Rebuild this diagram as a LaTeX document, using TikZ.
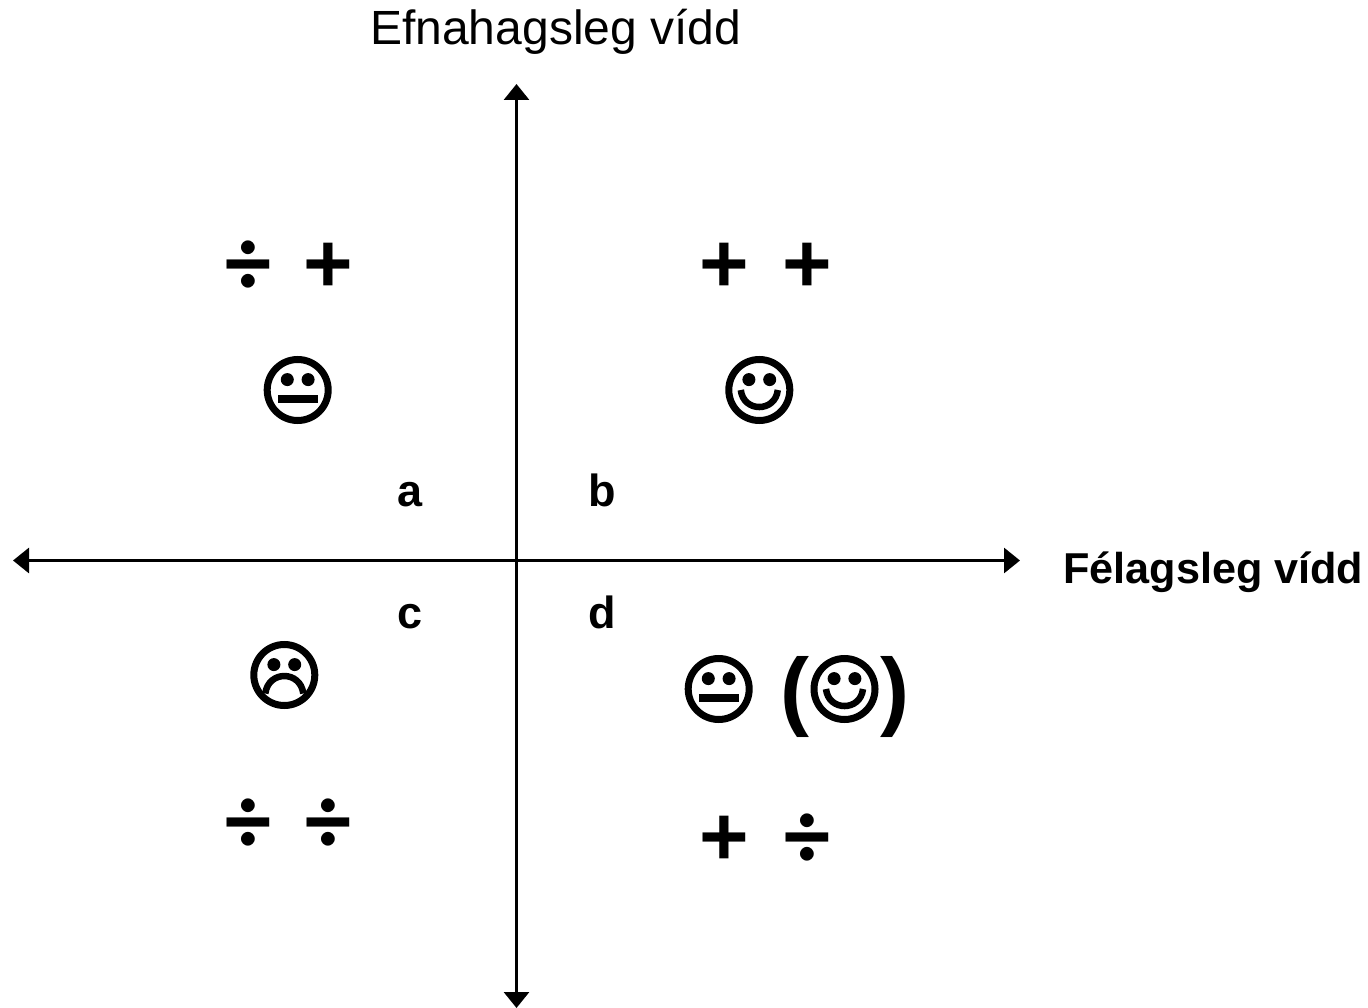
\documentclass[tikz,border=0pt]{standalone}
\usepackage{fontspec}
\setmainfont{Liberation Sans}
\newfontfamily\symfont{TeX Gyre Heros}
\usetikzlibrary{arrows.meta}
\tikzset{
  axis/.style={line width=3pt,{Triangle[length=16pt,width=25pt]}-{Triangle[length=16pt,width=25pt]}},
  title/.style={inner sep=0pt,anchor=base west,font=\fontsize{48}{48}\selectfont},
  xtitlestyle/.style={inner sep=0pt,anchor=base west,font=\fontsize{43.2}{43.2}\selectfont\bfseries},
  boldlabel/.style={inner sep=0pt,anchor=base,font=\fontsize{45}{45}\selectfont\bfseries},
  sym/.style={inner sep=0pt,anchor=base,font=\fontsize{92}{92}\selectfont\symfont\bfseries},
  parenstyle/.style={inner sep=0pt,anchor=base,font=\fontsize{87}{87}\selectfont\bfseries},
  facering/.style={line width=7pt,draw=black},
  mouthline/.style={line width=6.5pt,draw=black}
}
\newcommand{\faceparts}[2]{%
  \draw[facering] (#1,#2) circle (30.5);
  \fill (#1-10.4,#2-10.4) circle (6.5);
  \fill (#1+10.4,#2-10.4) circle (6.5);
}
\newcommand{\neutralface}[2]{\faceparts{#1}{#2}
  \fill (#1-20,#2+5.3) rectangle (#1+20,#2+12.7);}
\newcommand{\happyface}[2]{\faceparts{#1}{#2}
  \draw[mouthline] (#1-18.5,#2) .. controls (#1-16,#2+22.7) and (#1+16,#2+22.7) .. (#1+18.5,#2);}
\newcommand{\sadface}[2]{\faceparts{#1}{#2}
  \draw[mouthline] (#1-19,#2+18.5) .. controls (#1-16,#2-4.8) and (#1+16,#2-4.8) .. (#1+19,#2+18.5);}
\begin{document}
\begin{tikzpicture}[x=1pt,y=-1pt]
\useasboundingbox (0,0) rectangle (1368,1008);
\coordinate (top) at (516.5,84);
\coordinate (bottom) at (516.5,1008);
\coordinate (left) at (13,560.5);
\coordinate (right) at (1020,560.5);
\draw[axis] (bottom) -- (top);
\draw[axis] (left) -- (right);
\node[title] (ytitle) at (370,45) {Efnahagsleg vídd};
\node[xtitlestyle] (xtitle) at (1063,583) {Félagsleg vídd};
\node[boldlabel] (a) at (410,506) {a};
\node[boldlabel] (b) at (602,506) {b};
\node[boldlabel] (c) at (410,628) {c};
\node[boldlabel] (d) at (602,628) {d};
\node[sym] (s1) at (248,288) {÷};
\node[sym] (s2) at (328,288) {+};
\node[sym] (s3) at (724,288) {+};
\node[sym] (s4) at (807,288) {+};
\node[sym] (s5) at (248,845) {÷};
\node[sym] (s6) at (328,845) {÷};
\node[sym] (s7) at (724,860) {+};
\node[sym] (s8) at (807,860) {÷};
\node[parenstyle] (p1) at (795,719) {(};
\node[parenstyle] (p2) at (895,719) {)};
\neutralface{297.7}{390}
\happyface{759.3}{390}
\sadface{284.3}{675}
\neutralface{718.7}{689}
\happyface{844.5}{689}
\end{tikzpicture}
\end{document}
